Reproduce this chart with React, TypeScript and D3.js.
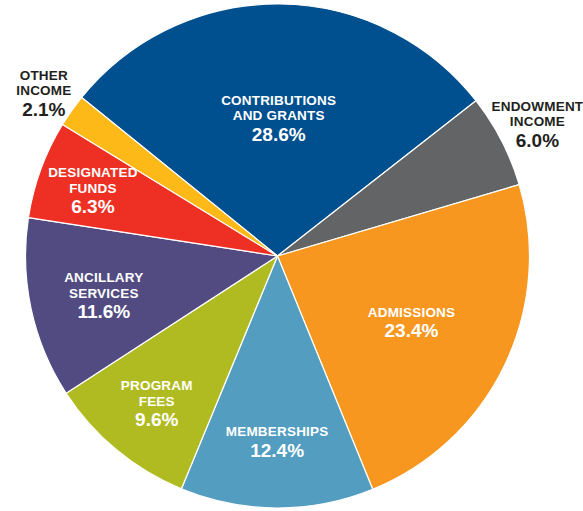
import * as React from 'react';
import * as d3 from 'd3';

interface Slice {
  name: string[];
  value: number;
  color: string;
}

// revenue shares, clockwise from the upper left
const names: string[][] = [
  ['CONTRIBUTIONS', 'AND GRANTS'],
  ['ENDOWMENT', 'INCOME'],
  ['ADMISSIONS'],
  ['MEMBERSHIPS'],
  ['PROGRAM', 'FEES'],
  ['ANCILLARY', 'SERVICES'],
  ['DESIGNATED', 'FUNDS'],
  ['OTHER', 'INCOME'],
];
const values: number[] = [28.6, 6.0, 23.4, 12.4, 9.6, 11.6, 6.3, 2.1];
const colors: string[] = [
  '#00508f',
  '#636466',
  '#f7971f',
  '#529dc0',
  '#b0bb21',
  '#514b82',
  '#ee3024',
  '#fdb918',
];

// label distance from centre, as a fraction of the radius
const labelRadius: number[] = [0.556, 1.16, 0.59, 0.73, 0.75, 0.705, 0.78, 1.135];

const width = 583;
const height = 511;

const App = () => {
  const ref = React.useRef<SVGSVGElement>(null);

  React.useEffect(() => {
    const data: Slice[] = values.map((v, i) => ({
      name: names[i],
      value: v,
      color: colors[i],
    }));

    const svg = d3.select(ref.current);
    svg.selectAll('*').remove();

    const cx = 277.5;
    const cy = 256;
    const r = 252;

    const g = svg.append('g').attr('transform', `translate(${cx}, ${cy})`);

    const start = (-51 * Math.PI) / 180;
    const pie = d3
      .pie<Slice>()
      .sort(null)
      .value((d) => d.value)
      .startAngle(start)
      .endAngle(start + 2 * Math.PI);

    const arcs = pie(data);
    const arc = d3.arc<d3.PieArcDatum<Slice>>().innerRadius(0).outerRadius(r);

    g.selectAll('path.slice')
      .data(arcs)
      .enter()
      .append('path')
      .attr('class', 'slice')
      .attr('d', arc)
      .attr('fill', (d) => d.data.color)
      .attr('stroke', '#fff')
      .attr('stroke-width', 1.2)
      .attr('stroke-linejoin', 'round');

    const nameStep = 15.5;
    const pctGap = 20.5;

    arcs.forEach((d, i) => {
      const mid = (d.startAngle + d.endAngle) / 2;
      const lr = labelRadius[i] * r;
      const x = lr * Math.sin(mid);
      const y = -lr * Math.cos(mid);
      const outside = labelRadius[i] > 1;
      const fill = outside ? '#231f20' : '#ffffff';
      const n = d.data.name.length;
      const b1 = y - ((n - 1) * nameStep + 10) / 2 + 1.5;

      const t = g
        .append('g')
        .attr('font-family', 'Liberation Sans, Arial, Helvetica, sans-serif')
        .attr('font-weight', 'bold')
        .attr('text-anchor', 'middle')
        .attr('fill', fill);

      d.data.name.forEach((line, j) => {
        t.append('text')
          .attr('x', x)
          .attr('y', b1 + j * nameStep)
          .attr('font-size', 13.5)
          .attr('letter-spacing', 0.2)
          .text(line);
      });

      t.append('text')
        .attr('x', x)
        .attr('y', b1 + (n - 1) * nameStep + pctGap)
        .attr('font-size', 19)
        .text(`${d.data.value.toFixed(1)}%`);
    });
  }, []);

  return (
    <svg
      ref={ref}
      width={width}
      height={height}
      style={{ position: 'absolute', left: 0, top: 0, background: '#fff' }}
    />
  );
};

export default App;
